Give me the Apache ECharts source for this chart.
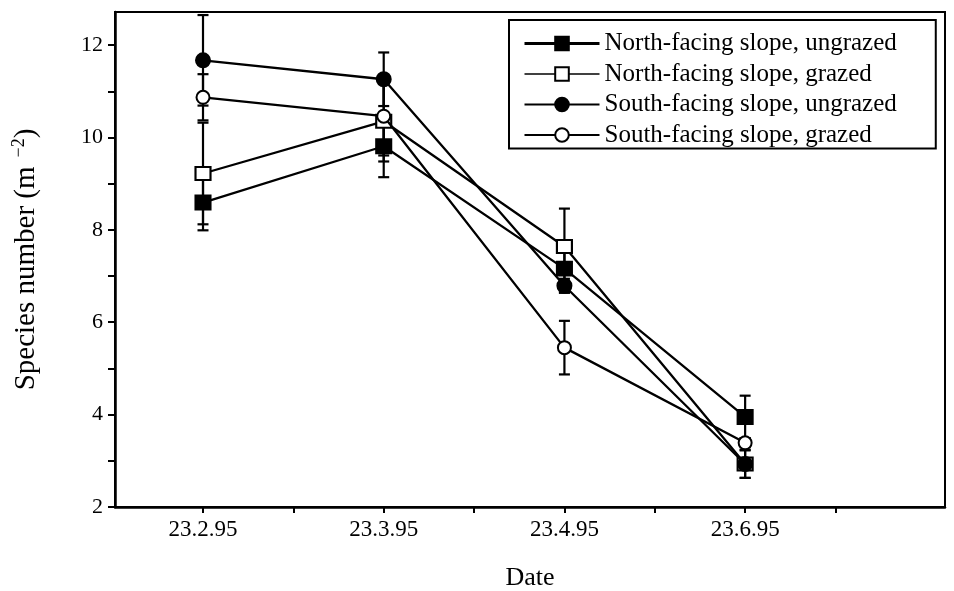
<!DOCTYPE html>
<html>
<head>
<meta charset="utf-8">
<script src="https://cdn.jsdelivr.net/npm/echarts@6/dist/echarts.min.js"></script>
<style>
html,body{margin:0;padding:0;background:#fff;}
#chart{width:954px;height:591px;}
</style>
</head>
<body>
<div id="chart"></div>
<script>
// ---- data ----
var categories = ['23.2.95', '23.3.95', '23.4.95', '23.6.95'];
var seriesNames = ['North-facing slope, ungrazed', 'North-facing slope, grazed', 'South-facing slope, ungrazed', 'South-facing slope, grazed'];
var northUngrazed = [8.59, 9.81, 7.16, 3.95];
var northGrazed   = [9.22, 10.35, 7.64, 2.93];
var southUngrazed = [11.67, 11.26, 6.79, 2.93];
var southGrazed   = [10.87, 10.46, 5.45, 3.39];
var northUngrazedErr = [0.6, 0.67, 0.52, 0.46];
var northGrazedErr   = [1.1, 0.87, 0.82, 0.3];
var southUngrazedErr = [0.98, 0.58, 0.15, 0.3];
var southGrazedErr   = [0.5, 0.85, 0.58, 0.1];
var yTicks = [2, 3, 4, 5, 6, 7, 8, 9, 10, 11, 12];
var yLabels = [2, 4, 6, 8, 10, 12];
var xTicks = [0, 0.5, 1, 1.5, 2, 2.5, 3, 3.5];
var xLabels = [0, 1, 2, 3];

var FONT = "'Liberation Serif', 'Times New Roman', serif";
var allVals = [northUngrazed, northGrazed, southUngrazed, southGrazed];
var allErr = [northUngrazedErr, northGrazedErr, southUngrazedErr, southGrazedErr];
var symbols = ['rect', 'rect', 'circle', 'circle'];
var fills = ['#000', '#fff', '#000', '#fff'];
var sizes = [[15, 14], [15, 13], 14, 13];
var legendLineWidths = [3, 1.5, 2, 2];

function pts(arr) { return arr.map(function (v, i) { return [i, v]; }); }

var errData = [];
allVals.forEach(function (arr, s) {
  arr.forEach(function (v, i) { errData.push([i, v - allErr[s][i], v + allErr[s][i]]); });
});

var series = [{
  type: 'custom',
  name: 'err',
  z: 1,
  silent: true,
  data: errData,
  encode: { x: 0, y: [1, 2] },
  renderItem: function (params, api) {
    var lo = api.coord([api.value(0), api.value(1)]);
    var hi = api.coord([api.value(0), api.value(2)]);
    var w = 5.5;
    var st = { stroke: '#000', lineWidth: 2.2 };
    return {
      type: 'group',
      children: [
        { type: 'line', shape: { x1: lo[0], y1: lo[1], x2: hi[0], y2: hi[1] }, style: st },
        { type: 'line', shape: { x1: lo[0] - w, y1: lo[1], x2: lo[0] + w, y2: lo[1] }, style: st },
        { type: 'line', shape: { x1: hi[0] - w, y1: hi[1], x2: hi[0] + w, y2: hi[1] }, style: st }
      ]
    };
  }
}];

allVals.forEach(function (arr, s) {
  series.push({
    type: 'line',
    name: seriesNames[s],
    data: pts(arr),
    z: 2 + s,
    symbol: symbols[s],
    symbolSize: sizes[s],
    showAllSymbol: true,
    lineStyle: { color: '#000', width: 2.3 },
    itemStyle: { color: fills[s], borderColor: '#000', borderWidth: 2, opacity: 1 },
    emphasis: { disabled: true },
    animation: false
  });
});

var chart = echarts.init(document.getElementById('chart'));
chart.setOption({
  animation: false,
  backgroundColor: '#fff',
  grid: { left: 115, top: 12, right: 9, bottom: 84, outerBoundsMode: 'none', containLabel: false, show: true, borderColor: '#000', borderWidth: 2, backgroundColor: 'transparent' },
  legend: {
    data: seriesNames.map(function (n, i) { return { name: n, lineStyle: { width: legendLineWidths[i] } }; }),
    orient: 'vertical',
    left: 509,
    top: 20,
    padding: [11, 39, 1, 14],
    itemWidth: 75,
    itemHeight: 17,
    itemGap: 5.5,
    borderColor: '#000',
    borderWidth: 2,
    backgroundColor: '#fff',
    textStyle: { fontFamily: FONT, fontSize: 25, color: '#000', lineHeight: 24 },
    selectedMode: false
  },
  xAxis: {
    type: 'value',
    min: -0.487,
    max: 4.106,
    splitLine: { show: false },
    axisLine: { onZero: false, lineStyle: { color: '#000', width: 2.5 } },
    axisTick: { show: true, length: 6, inside: false, customValues: xTicks, lineStyle: { color: '#000', width: 2 } },
    axisLabel: {
      customValues: xLabels,
      margin: 11,
      fontFamily: FONT, fontSize: 23, color: '#000',
      formatter: function (v) { return categories[Math.round(v)]; }
    },
    name: 'Date',
    nameLocation: 'middle',
    nameGap: 58,
    nameTextStyle: { fontFamily: FONT, fontSize: 26, color: '#000' }
  },
  yAxis: {
    type: 'value',
    min: 2,
    max: 12.716,
    splitLine: { show: false },
    axisLine: { onZero: false, lineStyle: { color: '#000', width: 2.5 } },
    axisTick: { show: true, length: 7, inside: false, customValues: yTicks, lineStyle: { color: '#000', width: 2 } },
    axisLabel: { customValues: yLabels, margin: 12, fontFamily: FONT, fontSize: 22, color: '#000' },
    name: 'Species number (m{sup|−2})',
    nameLocation: 'middle',
    nameGap: 72,
    nameTextStyle: {
      fontFamily: FONT, fontSize: 29, color: '#000',
      rich: { sup: { fontFamily: FONT, fontSize: 18, color: '#000', padding: [0, 0, 15, 9] } }
    }
  },
  series: series
});
</script>
</body>
</html>
